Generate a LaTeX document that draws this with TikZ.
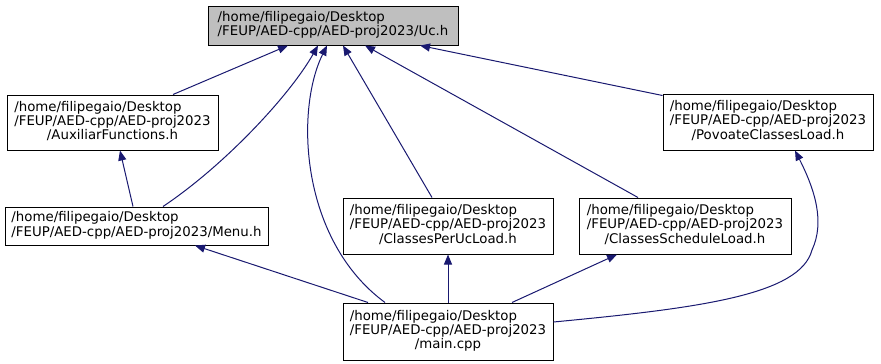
\documentclass[tikz,border=0pt]{standalone}
\usepackage{fontspec}
\setmainfont{DejaVu Sans}
\usepackage{tikz}
\usetikzlibrary{arrows.meta,calc}
\definecolor{incblue}{HTML}{191970}
\definecolor{incgray}{HTML}{BFBFBF}

\newcommand{\twoline}[2]{\begin{tabular}{@{}l@{}}#1\\#2\end{tabular}}
\newcommand{\threeline}[3]{\begin{tabular}{@{}l@{}}#1\\#2\\\multicolumn{1}{@{}c@{}}{#3}\end{tabular}}

\begin{document}
\begin{tikzpicture}[
  x=1pt, y=-1pt,
  file/.style={draw=black, line width=1pt, fill=white, inner sep=0pt, font=\fontsize{13.33}{14}\selectfont},
  dep/.style={-{Triangle[length=10pt,width=8pt]}, incblue, line width=1pt}
]
\useasboundingbox (0,0) rectangle (881,364);

% Files
\node[file, fill=incgray, minimum width=250, minimum height=39] (uc) at (333,25.5)
  {\twoline{/home/filipegaio/Desktop}{/FEUP/AED-cpp/AED-proj2023/Uc.h}};
\node[file, minimum width=211, minimum height=55] (aux) at (112.5,122.5)
  {\threeline{/home/filipegaio/Desktop}{/FEUP/AED-cpp/AED-proj2023}{/AuxiliarFunctions.h}};
\node[file, minimum width=210, minimum height=56] (pov) at (768,122)
  {\threeline{/home/filipegaio/Desktop}{/FEUP/AED-cpp/AED-proj2023}{/PovoateClassesLoad.h}};
\node[file, minimum width=263, minimum height=38] (menu) at (136.5,226)
  {\twoline{/home/filipegaio/Desktop}{/FEUP/AED-cpp/AED-proj2023/Menu.h}};
\node[file, minimum width=210, minimum height=56] (cpul) at (448,226)
  {\threeline{/home/filipegaio/Desktop}{/FEUP/AED-cpp/AED-proj2023}{/ClassesPerUcLoad.h}};
\node[file, minimum width=212, minimum height=56] (csl) at (685,226)
  {\threeline{/home/filipegaio/Desktop}{/FEUP/AED-cpp/AED-proj2023}{/ClassesScheduleLoad.h}};
\node[file, minimum width=210, minimum height=57] (main) at (448,331.5)
  {\threeline{/home/filipegaio/Desktop}{/FEUP/AED-cpp/AED-proj2023}{/main.cpp}};

% Includes of Uc.h
\draw[dep] ($(aux.north)+(60.5,0)$) -- ($(uc.south)+(-45,0)$);
\draw[dep] ($(menu.north)+(26.5,0)$) .. controls (225,165) and (290,95) .. ($(uc.south)+(-15,0)$);
\draw[dep] ($(main.north)+(-63,0)$) .. controls (300,240) and (295,110) .. ($(uc.south)+(-6,0)$);
\draw[dep] ($(cpul.north)+(-16,0)$) -- ($(uc.south)+(10,0)$);
\draw[dep] ($(csl.north)+(-47,0)$) -- ($(uc.south)+(32,0)$);
\draw[dep] ($(pov.north west)+(0,2)$) -- ($(uc.south)+(87,0)$);

% Other includes
\draw[dep] ($(menu.north)+(-3.5,0)$) -- ($(aux.south)+(7.5,0)$);
\draw[dep] ($(main.north)+(-80,0)$) -- ($(menu.south)+(58.5,0)$);
\draw[dep] (main.north) -- (cpul.south);
\draw[dep] ($(main.north)+(64,0)$) -- ($(csl.south)+(-68,0)$);
\draw[dep] ($(main.east)+(0,-9.5)$) .. controls (700,308) and (800,295) .. (812,250)
  .. controls (825,222) and (815,190) .. ($(pov.south)+(27,0)$);

\end{tikzpicture}
\end{document}
